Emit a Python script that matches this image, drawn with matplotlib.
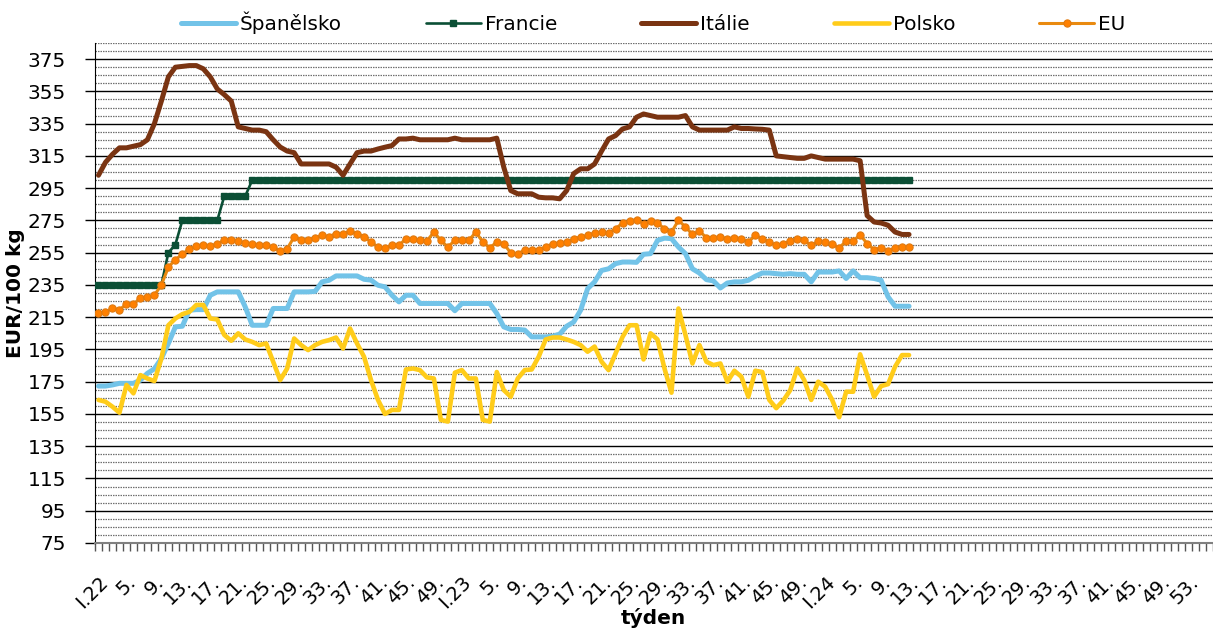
import numpy as np
import matplotlib
matplotlib.use("Agg")
import matplotlib.pyplot as plt
from matplotlib.ticker import FixedLocator

# ---------------- data ----------------
series_names = ["Španělsko", "Francie", "Itálie", "Polsko", "EU"]

x_labels = ["I.22", "5.", "9.", "13.", "17.", "21.", "25.", "29.", "33.", "37.", "41.", "45.", "49.",
            "I.23", "5.", "9.", "13.", "17.", "21.", "25.", "29.", "33.", "37.", "41.", "45.", "49.",
            "I.24", "5.", "9.", "13.", "17.", "21.", "25.", "29.", "33.", "37.", "41.", "45.", "49.", "53."]
n_categories = 160

spanelsko = [172.3, 172.3, 173.0, 174.0, 174.0, 174.0, 176.0, 180.2, 183.0, 189.4,
             198.7, 209.0, 209.4, 219.3, 219.7, 219.7, 228.6, 230.7, 230.7, 230.7,
             230.7, 221.4, 210.0, 210.0, 210.0, 220.4, 220.4, 220.4, 230.7, 230.7,
             230.7, 231.0, 236.9, 237.9, 240.6, 240.6, 240.6, 240.6, 238.5, 238.0,
             234.8, 233.8, 228.6, 224.5, 228.6, 228.6, 223.5, 223.5, 223.5, 223.5,
             223.5, 219.0, 223.5, 223.5, 223.5, 223.5, 223.5, 217.3, 209.0, 207.4,
             207.4, 207.0, 202.8, 202.8, 202.8, 203.2, 204.5, 209.4, 212.0, 219.3,
             232.7, 236.9, 244.0, 245.0, 248.2, 249.2, 249.2, 249.0, 254.0, 254.4,
             262.6, 264.0, 263.7, 258.5, 254.4, 245.0, 242.4, 238.3, 237.5, 233.1,
             236.2, 236.9, 236.9, 237.9, 240.4, 242.4, 242.4, 242.0, 241.6, 242.0,
             241.6, 241.6, 236.9, 243.0, 243.0, 243.0, 243.7, 239.0, 243.7, 239.5,
             239.5, 239.0, 237.9, 227.6, 221.8, 221.8, 221.8]

francie = [235, 235, 235, 235, 235, 235, 235, 235, 235, 235,
           255, 260, 275, 275, 275, 275, 275, 275, 290, 290,
           290, 290, 300, 300, 300, 300, 300, 300, 300, 300,
           300, 300, 300, 300, 300, 300, 300, 300, 300, 300,
           300, 300, 300, 300, 300, 300, 300, 300, 300, 300,
           300, 300, 300, 300, 300, 300, 300, 300, 300, 300,
           300, 300, 300, 300, 300, 300, 300, 300, 300, 300,
           300, 300, 300, 300, 300, 300, 300, 300, 300, 300,
           300, 300, 300, 300, 300, 300, 300, 300, 300, 300,
           300, 300, 300, 300, 300, 300, 300, 300, 300, 300,
           300, 300, 300, 300, 300, 300, 300, 300, 300, 300,
           300, 300, 300, 300, 300, 300, 300]

italie = [303.0, 311.0, 316.0, 320.0, 320.0, 321.0, 322.0, 325.0, 335.0, 349.0,
          364.0, 370.0, 370.5, 371.0, 371.0, 369.0, 364.0, 356.5, 353.0, 349.0,
          333.0, 332.0, 331.0, 331.0, 330.0, 325.0, 320.5, 318.0, 317.0, 310.0,
          310.0, 310.0, 310.0, 310.0, 308.0, 303.0, 310.0, 317.0, 318.0, 318.0,
          319.3, 320.4, 321.4, 325.5, 325.5, 326.0, 325.0, 325.0, 325.0, 325.0,
          325.0, 326.0, 325.0, 325.0, 325.0, 325.0, 325.0, 326.0, 308.0, 293.5,
          291.5, 291.5, 291.5, 289.4, 289.0, 289.0, 288.4, 293.5, 304.0, 307.0,
          307.0, 310.0, 318.0, 325.5, 327.6, 331.7, 333.0, 339.0, 341.0, 340.0,
          339.0, 339.0, 339.0, 339.0, 340.0, 333.0, 331.0, 331.0, 331.0, 331.0,
          331.0, 333.0, 332.0, 332.0, 331.7, 331.5, 331.0, 315.0, 314.5, 314.0,
          313.5, 313.5, 315.0, 314.0, 313.0, 313.0, 313.0, 313.0, 313.0, 312.0,
          278.0, 274.0, 273.4, 272.0, 267.8, 266.3, 266.3]

polsko = [163.7, 162.6, 159.5, 155.8, 173.0, 167.8, 179.1, 177.0, 175.4, 189.4,
          210.0, 214.2, 216.9, 218.3, 222.6, 222.6, 214.2, 213.6, 204.0, 200.4,
          205.0, 201.2, 199.7, 197.7, 198.7, 187.4, 176.0, 183.2, 201.8, 197.7,
          194.6, 197.7, 199.7, 200.8, 202.4, 195.6, 208.0, 198.7, 190.5, 176.0,
          163.7, 155.0, 157.5, 157.5, 182.6, 183.2, 182.2, 177.7, 177.0, 151.3,
          150.3, 180.6, 182.2, 177.0, 177.0, 151.3, 150.3, 181.0, 169.8, 165.7,
          177.0, 182.2, 182.6, 190.5, 201.2, 202.4, 202.4, 201.2, 199.7, 197.7,
          193.6, 196.8, 187.4, 182.2, 192.5, 202.8, 210.0, 210.0, 188.8, 205.0,
          201.2, 183.2, 168.2, 220.4, 204.0, 186.3, 197.7, 187.4, 185.3, 186.3,
          175.0, 181.8, 178.1, 165.7, 181.8, 181.0, 163.7, 158.6, 163.3, 169.8,
          183.2, 176.0, 163.7, 175.0, 171.9, 163.7, 153.0, 168.8, 168.8, 192.0,
          179.1, 165.7, 172.3, 173.5, 184.3, 191.5, 191.5]

eu = [217.3, 218.3, 220.4, 219.7, 223.0, 223.0, 227.0, 227.6, 228.6, 235.0,
      246.0, 250.7, 254.0, 257.5, 259.0, 260.0, 259.0, 260.6, 262.6, 263.0,
      262.2, 261.0, 260.6, 259.5, 259.5, 258.5, 255.8, 257.5, 264.7, 263.0,
      263.0, 264.3, 265.7, 265.0, 266.8, 266.8, 268.2, 266.8, 265.0, 261.6,
      258.5, 258.0, 259.5, 259.5, 263.7, 263.7, 262.6, 262.2, 267.8, 262.6,
      258.5, 262.6, 263.0, 262.6, 267.8, 261.6, 258.0, 261.6, 260.6, 254.8,
      254.0, 256.9, 256.5, 256.9, 258.5, 260.6, 261.0, 261.6, 263.7, 264.7,
      265.7, 267.2, 267.8, 267.2, 269.8, 273.4, 274.6, 275.5, 273.0, 274.6,
      273.4, 269.8, 267.8, 275.0, 271.0, 266.3, 268.4, 264.3, 264.3, 264.7,
      263.5, 264.3, 263.5, 261.6, 265.7, 263.7, 261.6, 259.5, 260.6, 262.2,
      263.7, 262.6, 259.5, 262.0, 261.6, 260.2, 258.0, 262.2, 262.2, 266.1,
      260.6, 256.9, 258.0, 256.0, 258.0, 258.8, 258.5]

y_min, y_max = 75, 385

# ---------------- figure ----------------
W, H = 1213, 630
fig = plt.figure(figsize=(W / 100, H / 100), dpi=100)
ax = fig.add_axes([95 / W, 87 / H, 1118 / W, 500 / H])

ax.set_ylim(y_min, y_max)
ax.set_xlim(-0.5, n_categories - 0.5)
ax.yaxis.set_major_locator(FixedLocator(np.arange(75, 376, 20)))
ax.yaxis.set_minor_locator(FixedLocator(np.arange(75, 386, 5)))
ax.grid(which="minor", axis="y", color="#707070", linestyle=(0, (1.2, 0.8)), linewidth=0.9, zorder=0)
ax.grid(which="major", axis="y", color="black", linewidth=1.0, zorder=0.5)
ax.set_axisbelow(True)

styles = [
    dict(color="#72C3E8", lw=3.6, zorder=3),
    dict(color="#0B4F35", lw=1.9, marker="s", markersize=4.4, markerfacecolor="#0B4F35",
         markeredgecolor="#0B4F35", zorder=4),
    dict(color="#7A3412", lw=3.6, zorder=5),
    dict(color="#FFCC1A", lw=3.3, zorder=6),
    dict(color="#E98A10", lw=2.2, marker="o", markersize=5.2, markerfacecolor="#FF8000",
         markeredgecolor="#E07A10", markeredgewidth=0.8, zorder=7),
]
data = [spanelsko, francie, italie, polsko, eu]
handles = []
for name, vals, st in zip(series_names, data, styles):
    xs = np.arange(len(vals))
    h, = ax.plot(xs, vals, label=name, solid_joinstyle="round", solid_capstyle="round", **st)
    handles.append(h)

label_pos = np.arange(len(x_labels)) * 4
ax.set_xticks(label_pos)
ax.set_xticklabels(x_labels, rotation=45, ha="right", rotation_mode="anchor", fontsize=14)
ax.xaxis.set_minor_locator(FixedLocator(np.arange(-0.5, n_categories, 1)))
ax.tick_params(axis="x", which="major", length=0, pad=21)
ax.tick_params(axis="x", which="minor", length=6, width=1, color="#555555")
ax.tick_params(axis="y", which="major", length=7, width=1, color="black", labelsize=14.5, pad=14)
ax.tick_params(axis="y", which="minor", length=0)

for s in ["top", "right"]:
    ax.spines[s].set_visible(False)
ax.spines["left"].set_color("black")
ax.spines["bottom"].set_color("#808080")
ax.spines["bottom"].set_linewidth(1.5)

ax.set_ylabel("EUR/100 kg", fontsize=14.5, fontweight="bold")
ax.yaxis.set_label_coords(-0.063, 0.5)
fig.text(653 / W, 1 - 618 / H, "týden", ha="center", va="center", fontsize=14.5, fontweight="bold")

fig.legend(handles=handles, loc="center", bbox_to_anchor=(653 / W, 1 - 23 / H), ncol=5,
           frameon=False, fontsize=14.4, handlelength=2.75, handletextpad=0.2, columnspacing=4.2,
           numpoints=1)

fig.savefig("out.png", dpi=100)
